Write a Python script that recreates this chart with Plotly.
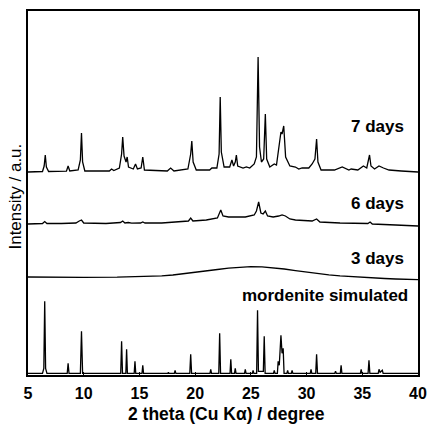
import plotly.graph_objects as go

# ---------------- data (intensity in arbitrary units) -------------
# vertical offsets used to stack the patterns
offset_sim = 1.7
offset_3d = 98.0
offset_6d = 151.0
offset_7d = 203.0

# mordenite simulated
sim_x = [5, 6.3, 6.42, 6.5, 6.58, 6.7, 8.52, 8.6, 8.68, 9.7, 9.8, 9.9,
         13.32, 13.4, 13.48, 13.78, 13.85, 13.92, 14.53, 14.6, 14.67,
         15.23, 15.3, 15.37, 17.55, 17.6, 17.65, 18.13, 18.2, 18.27,
         19.52, 19.6, 19.68, 21.33, 21.4, 21.47, 22.12, 22.2, 22.28,
         23.13, 23.2, 23.27, 23.53, 23.6, 23.67, 24.43, 24.5, 24.57,
         25.13, 25.2, 25.27, 25.52, 25.6, 25.68, 26.12, 26.2, 26.28,
         27.03, 27.1, 27.17, 27.38, 27.45, 27.55, 27.7, 27.8, 27.9, 27.98,
         28.23, 28.3, 28.37, 28.63, 28.7, 28.77, 30.33, 30.4, 30.47,
         30.82, 30.9, 30.98, 32.53, 32.6, 32.67, 33.03, 33.1, 33.17,
         34.83, 34.9, 34.97, 35.52, 35.6, 35.68, 36.43, 36.5, 36.6, 36.8, 36.87, 40]
sim_y = [0, 0, 5, 72, 5, 0, 0, 10, 0, 0, 42, 0,
         0, 32, 0, 0, 24, 0, 0, 12, 0,
         0, 8, 0, 0, 1, 0, 0, 3, 0,
         0, 19, 0, 0, 4, 0, 0, 40, 0,
         0, 14, 0, 0, 5, 0, 0, 4, 0,
         0, 3, 0, 0, 63, 2, 2, 37, 0,
         0, 3, 0, 0, 12, 8, 38, 20, 25, 0,
         0, 3, 0, 0, 3, 0, 0, 4, 0,
         0, 19, 0, 0, 2, 0, 0, 8, 0,
         0, 4, 0, 0, 13, 0, 0, 4, 1, 3, 0, 0]

# 3 days (amorphous)
d3_x = [5, 7, 10, 13, 15, 16, 17, 18, 19, 20, 21, 22, 23, 24, 25, 26, 27, 28, 29, 30,
        31, 32, 33, 34, 35, 36, 37, 38, 39, 40]
d3_y = [0, -0.3, -0.4, -0.2, 0.2, 0.6, 1.2, 2.0, 3.2, 4.5, 6.0, 7.5, 8.8, 9.8, 10.4, 10.2,
        9.4, 8.0, 6.4, 4.8, 3.4, 2.2, 1.2, 0.4, -0.3, -1.0, -1.5, -2.0, -2.4, -2.6]

# 6 days
d6_x = [5, 6.3, 6.5, 6.7, 8, 9.3, 9.6, 9.8, 10.0, 12, 13.3, 13.5, 13.7, 14.0, 14.3,
        15.1, 15.3, 15.5, 17, 18.5, 19.4, 19.6, 19.8, 21, 22.0, 22.3, 22.5, 23.0, 23.7,
        24.5, 25.3, 25.5, 25.7, 25.9, 26.1, 26.3, 26.5, 27.0, 27.5, 27.8, 28.1, 28.5,
        29.0, 30.5, 30.9, 31.2, 33, 35.5, 35.7, 35.9, 38, 40]
d6_y = [0, 0.5, 2.5, 0.5, 0.5, 1, 3, 4, 1, 0.5, 1.5, 3, 1, 1.5, 0.8,
        1, 2, 1, 1, 2, 3, 6, 3, 4, 6, 14, 8, 7, 7,
        7, 9, 13, 22, 11, 10, 13, 8, 7, 8, 9, 8, 5,
        4, 3, 5, 2, 1, 0.5, 2, 0, -1, -2]

# 7 days
d7_x = [5, 6.3, 6.45, 6.55, 6.65, 6.85, 8.45, 8.6, 8.75, 9.5, 9.7, 9.8, 9.9, 10.1,
        12.3, 12.5, 12.7, 13.2, 13.4, 13.5, 13.62, 13.8, 13.9, 14.02, 14.45, 14.65,
        14.82, 15.15, 15.3, 15.45, 17.5, 17.8, 18.1, 19.35, 19.6, 19.7, 19.82, 20.1,
        21.3, 21.5, 21.95, 22.15, 22.25, 22.35, 22.6, 23.1, 23.3, 23.45, 23.6, 23.7,
        23.82, 24.3, 24.6, 24.9, 25.3, 25.5, 25.65, 25.78, 25.95, 26.15, 26.3, 26.42,
        26.7, 27.1, 27.3, 27.5, 27.7, 27.8, 27.95, 28.12, 28.3, 28.5, 29.0, 29.3,
        29.6, 30.2, 30.5, 30.75, 30.9, 31.02, 31.3, 32.5, 33.2, 33.8, 34.0, 34.6,
        35.1, 35.4, 35.65, 35.78, 36.1, 36.5, 36.9, 37.4, 38.5, 40]
d7_y = [0, 0.5, 6, 17, 5, 0.5, 0.8, 6, 1, 2, 12, 39, 10, 1,
        1, 3, 1.5, 4, 18, 35, 16, 10, 15, 5, 3, 8,
        3, 4, 15, 2, 1, 4, 1, 3, 18, 31, 10, 2,
        2, 4, 4, 18, 75, 20, 5, 5, 12, 6, 10, 17,
        6, 4, 5, 4, 8, 15, 115, 25, 10, 13, 58, 13,
        5, 8, 7, 25, 40, 38, 46, 15, 11, 6, 5, 3,
        4, 4, 8, 13, 33, 10, 2, 2, 5, 2, 3, 2,
        6, 4, 17, 6, 3, 6, 4, 2, 1, 0]

labels = ["7 days", "6 days", "3 days", "mordenite simulated"]
label_y = [249, 172, 117, 80]
label_x = [38.92, 38.92, 38.92, 39.3]

x_ticks = [5, 10, 15, 20, 25, 30, 35, 40]

# ---------------- figure -------------
FONT = "Liberation Sans, Arial, sans-serif"
fig = go.Figure()
series = [(sim_x, sim_y, offset_sim), (d3_x, d3_y, offset_3d),
          (d6_x, d6_y, offset_6d), (d7_x, d7_y, offset_7d)]
for xs, ys, off in series:
    fig.add_trace(go.Scatter(x=xs, y=[v + off for v in ys], mode="lines",
                             line=dict(color="black", width=1.3),
                             showlegend=False, hoverinfo="skip"))

for t, xx, yy in zip(labels, label_x, label_y):
    fig.add_annotation(x=xx, y=yy, xref="x", yref="y", text=t, showarrow=False,
                       xanchor="right", yanchor="middle",
                       font=dict(family=FONT, size=17, color="black", weight="bold"))

fig.add_annotation(x=0.509, y=-0.106, xref="paper", yref="paper",
                   text="2 theta (Cu Kα) / degree", showarrow=False,
                   xanchor="center", yanchor="middle",
                   font=dict(family=FONT, size=17.5, color="black", weight="bold"))
fig.add_annotation(x=-0.031, y=0.49, xref="paper", yref="paper",
                   text="Intensity / a.u.", showarrow=False, textangle=-90,
                   xanchor="center", yanchor="middle",
                   font=dict(family=FONT, size=17, color="black"))

fig.update_layout(
    width=430, height=424,
    margin=dict(l=28, r=12, t=11, b=49, autoexpand=False),
    paper_bgcolor="white", plot_bgcolor="white",
    xaxis=dict(range=[5, 40], tickvals=x_ticks, ticks="inside", ticklen=3,
               tickcolor="black", showline=True, linecolor="black", linewidth=1.5,
               mirror=True, showgrid=False, zeroline=False, automargin=False,
               ticklabelstandoff=3,
               tickfont=dict(family=FONT, size=16, color="black", weight="bold")),
    yaxis=dict(range=[0, 364], showticklabels=False, ticks="", showline=True,
               linecolor="black", linewidth=1.5, mirror=True, showgrid=False,
               zeroline=False, automargin=False),
)

fig.write_html("out.html", config={"displayModeBar": False},
               post_script="document.body.style.margin='0px';document.body.style.padding='0px';")
